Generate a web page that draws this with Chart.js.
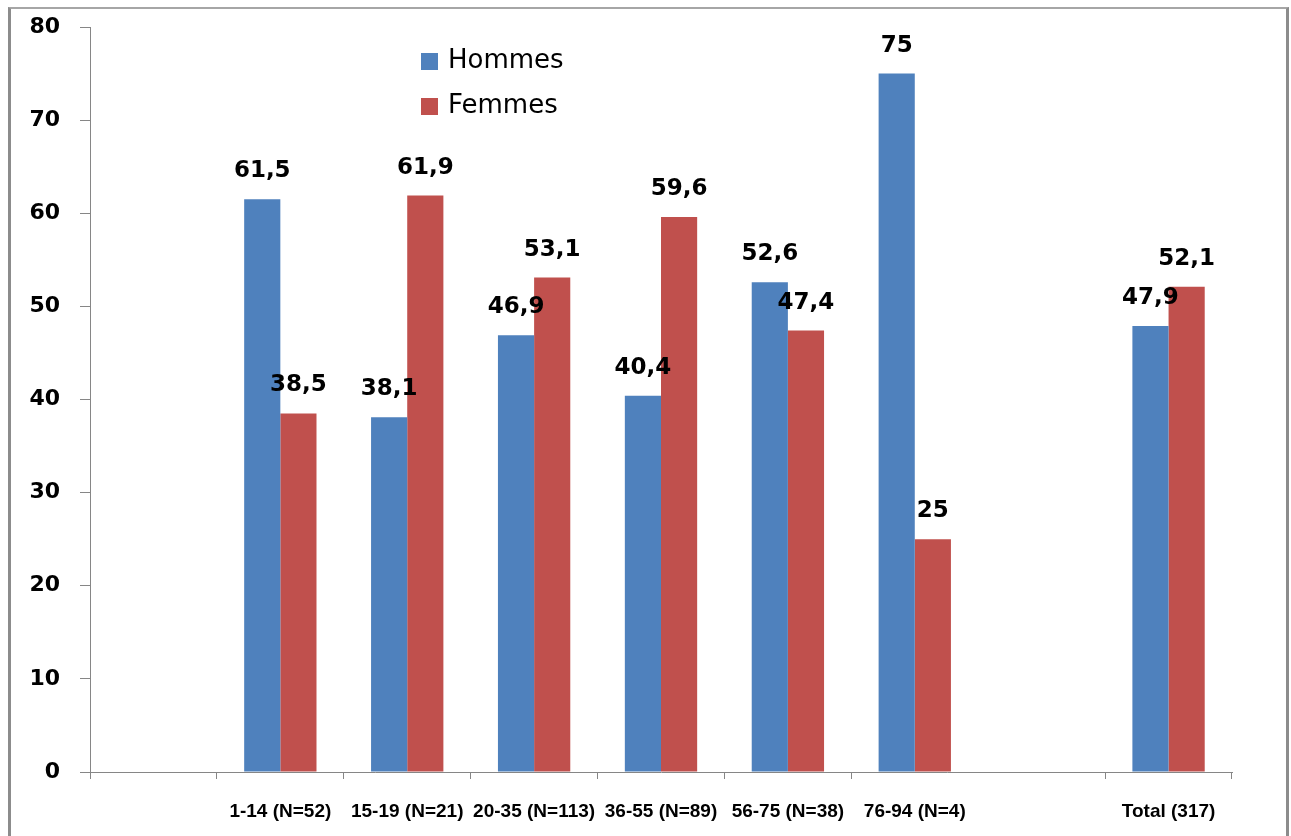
<!DOCTYPE html>
<html>
<head>
<meta charset="utf-8">
<script src="https://cdn.jsdelivr.net/npm/chart.js@4/dist/chart.umd.min.js"></script>
<style>
  body { margin: 0; background: #fff; }
  #frame { position: absolute; left: 8px; top: 7px; width: 1275px; height: 900px;
           border-top: 2px solid #a6a6a6; border-left: 3px solid #8c8c8c; border-right: 3px solid #8c8c8c; }
  #wrap { position: absolute; left: 0; top: 0; width: 1291px; height: 836px; }
</style>
</head>
<body>
<div id="frame"></div>
<div id="wrap"><canvas id="chart"></canvas></div>
<script>
// categories, two empty slots like in the original sheet
const categories = ['', '1-14 (N=52)', '15-19 (N=21)', '20-35 (N=113)', '36-55 (N=89)', '56-75 (N=38)', '76-94 (N=4)', '', 'Total (317)'];
const hommes = [null, 61.5, 38.1, 46.9, 40.4, 52.6, 75, null, 47.9];
const femmes = [null, 38.5, 61.9, 53.1, 59.6, 47.4, 25, null, 52.1];
const seriesNames = ['Hommes', 'Femmes'];
const yMin = 0, yMax = 80, yStep = 10;

const blue = '#4F81BD';
const red = '#C0504D';
const axisColor = '#868686';

// value above each bar, comma decimals
const valueLabels = {
  id: 'valueLabels',
  afterDatasetsDraw(chart) {
    const ctx = chart.ctx;
    ctx.save();
    ctx.font = 'bold 23px "DejaVu Sans"';
    ctx.fillStyle = '#000';
    ctx.textAlign = 'center';
    ctx.textBaseline = 'alphabetic';
    chart.data.datasets.forEach((ds, i) => {
      chart.getDatasetMeta(i).data.forEach((bar, j) => {
        const v = ds.data[j];
        if (v == null) return;
        ctx.fillText(String(v).replace('.', ','), bar.x, bar.y - 22);
      });
    });
    ctx.restore();
  }
};

// legend sits inside the plot, stacked
const innerLegend = {
  id: 'innerLegend',
  afterDraw(chart) {
    const ctx = chart.ctx;
    ctx.save();
    ctx.font = '26px "DejaVu Sans"';
    ctx.textBaseline = 'middle';
    ctx.textAlign = 'left';
    chart.data.datasets.forEach((ds, i) => {
      const y = 61.5 + i * 45;
      ctx.fillStyle = ds.backgroundColor;
      ctx.fillRect(421, y - 8.5, 17, 17);
      ctx.fillStyle = '#000';
      ctx.fillText(ds.label, 448, y);
    });
    ctx.restore();
  }
};

new Chart(document.getElementById('chart'), {
  type: 'bar',
  data: {
    labels: categories,
    datasets: [
      { label: seriesNames[0], data: hommes, backgroundColor: blue },
      { label: seriesNames[1], data: femmes, backgroundColor: red }
    ]
  },
  options: {
    responsive: true,
    maintainAspectRatio: false,
    animation: false,
    layout: { padding: { top: 27, right: 59, left: 0, bottom: 0 } },
    datasets: { bar: { categoryPercentage: 0.57, barPercentage: 1 } },
    plugins: {
      legend: { display: false },
      tooltip: { enabled: false }
    },
    scales: {
      x: {
        afterFit: scale => { scale.height = 64; },
        grid: {
          offset: true,
          drawOnChartArea: false,
          tickLength: 7,
          color: ctx => ctx.index === 7 ? 'rgba(0,0,0,0)' : axisColor
        },
        border: { color: axisColor },
        ticks: {
          autoSkip: false,
          maxRotation: 0,
          padding: 21,
          color: '#000',
          font: { family: '"Liberation Sans"', size: 19, weight: 'bold' }
        }
      },
      y: {
        min: yMin,
        max: yMax,
        afterFit: scale => {
          scale.width = 90;
          // tick padding would otherwise push the plot top down
          scale.paddingTop = 0;
          scale.paddingBottom = 0;
        },
        grid: { drawOnChartArea: false, tickLength: 10, color: axisColor },
        border: { color: axisColor },
        ticks: {
          stepSize: yStep,
          padding: 20,
          color: '#000',
          font: { family: '"DejaVu Sans"', size: 22, weight: 'bold' }
        }
      }
    }
  },
  plugins: [valueLabels, innerLegend]
});
</script>
</body>
</html>
